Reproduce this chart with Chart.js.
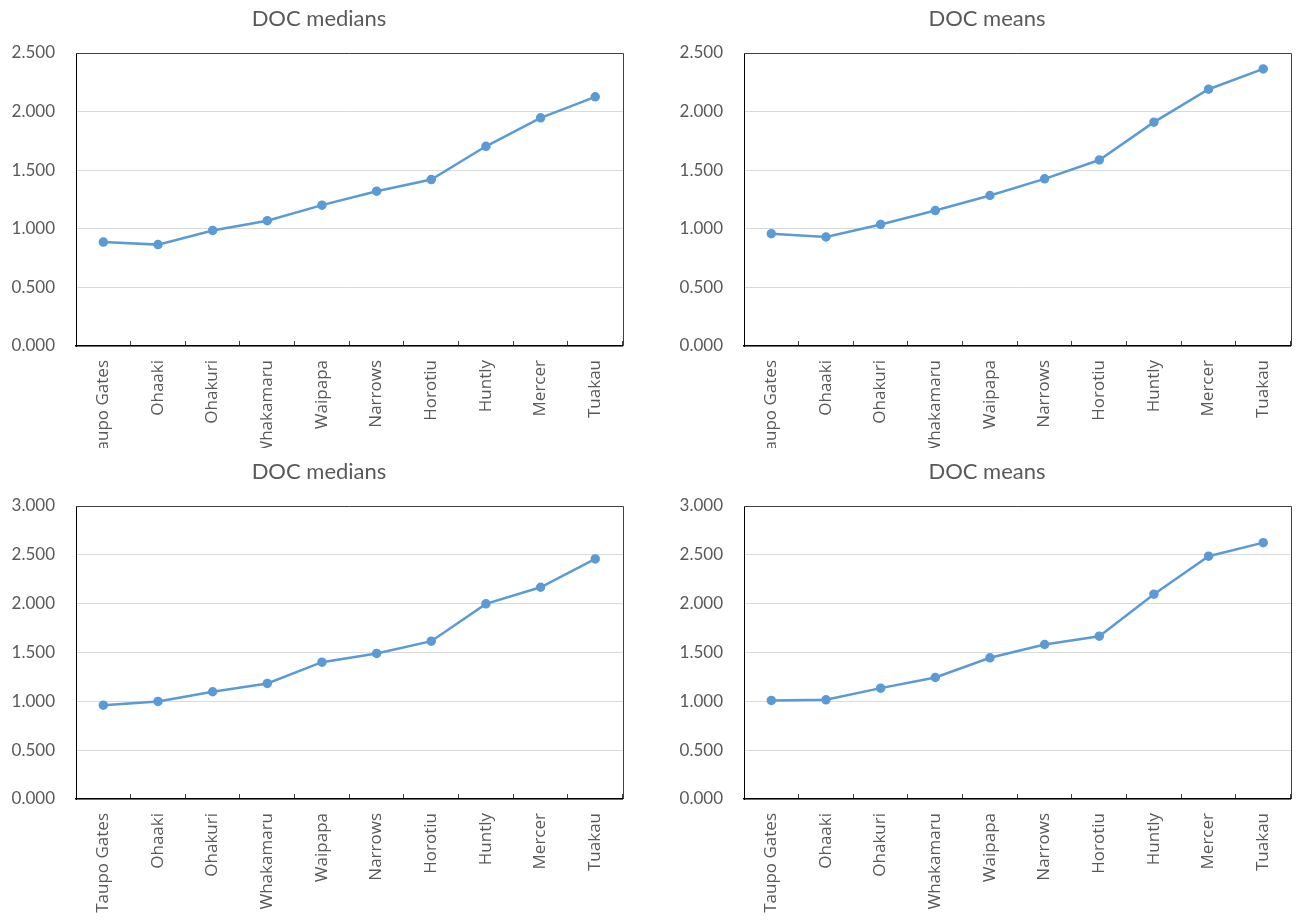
<!DOCTYPE html>
<html>
<head>
<meta charset="utf-8">
<script src="https://cdn.jsdelivr.net/npm/chart.js@4.4.1/dist/chart.umd.min.js"></script>
<style>
  html, body { margin: 0; padding: 0; background: #fff; }
  body { width: 1301px; height: 920px; position: relative; overflow: hidden; }
  .box { position: absolute; }
  canvas { display: block; }
  .title {
    position: absolute; width: 638px; height: 36px; line-height: 36px;
    text-align: center; font-family: Lato, sans-serif; font-size: 22px; color: #595959;
  }
</style>
</head>
<body>
<div class="box" style="left:0;top:0"><canvas id="c1" width="635" height="448"></canvas></div>
<div class="box" style="left:668px;top:0"><canvas id="c2" width="635" height="448"></canvas></div>
<div class="box" style="left:0;top:453px"><canvas id="c3" width="635" height="467"></canvas></div>
<div class="box" style="left:668px;top:453px"><canvas id="c4" width="635" height="467"></canvas></div>
<div class="title" id="t1" style="left:0;top:0"></div>
<div class="title" id="t2" style="left:668px;top:0"></div>
<div class="title" id="t3" style="left:0;top:453px"></div>
<div class="title" id="t4" style="left:668px;top:453px"></div>
<script>
// Data
const sites = ['Taupo Gates', 'Ohaaki', 'Ohakuri', 'Whakamaru', 'Waipapa', 'Narrows', 'Horotiu', 'Huntly', 'Mercer', 'Tuakau'];

const mediansTop = [0.887, 0.865, 0.986, 1.069, 1.202, 1.321, 1.420, 1.704, 1.947, 2.126];
const meansTop = [0.958, 0.930, 1.037, 1.156, 1.284, 1.426, 1.587, 1.910, 2.191, 2.364];
const mediansBottom = [0.961, 0.999, 1.098, 1.183, 1.401, 1.490, 1.616, 1.998, 2.168, 2.458];
const meansBottom = [1.009, 1.016, 1.135, 1.244, 1.446, 1.582, 1.667, 2.097, 2.486, 2.625];

const yMaxTop = 2.5;
const yMaxBottom = 3.0;
const yStep = 0.5;

const blue = '#5B9BD5';
const grey = '#595959';

// frame round the plot area (top and right sides)
const frame = {
  id: 'frame',
  afterDraw(chart) {
    const a = chart.chartArea;
    const ctx = chart.ctx;
    ctx.save();
    ctx.strokeStyle = '#404040';
    ctx.lineWidth = 1;
    ctx.beginPath();
    ctx.moveTo(a.left, Math.round(a.top) + 0.5);
    ctx.lineTo(Math.round(a.right) + 0.5, Math.round(a.top) + 0.5);
    ctx.lineTo(Math.round(a.right) + 0.5, a.bottom);
    ctx.stroke();
    ctx.restore();
  }
};

function makeChart(id, titleId, title, values, yMax, axisHeight) {
  document.getElementById(titleId).textContent = title;
  new Chart(document.getElementById(id), {
    type: 'line',
    data: {
      labels: sites,
      datasets: [{
        label: title,
        data: values,
        borderColor: blue,
        backgroundColor: blue,
        borderWidth: 2.5,
        pointRadius: 3.5,
        pointHoverRadius: 3.5,
        pointBackgroundColor: blue,
        pointBorderColor: blue,
        tension: 0,
        fill: false
      }]
    },
    options: {
      responsive: false,
      animation: false,
      devicePixelRatio: 1,
      layout: { padding: { left: 0, right: 7, top: 53, bottom: 0 } },
      plugins: {
        legend: { display: false },
        tooltip: { enabled: false },
        title: { display: false }
      },
      scales: {
        x: {
          offset: true,
          grid: {
            offset: true,
            drawOnChartArea: false,
            drawTicks: true,
            tickLength: -5,
            color: '#404040'
          },
          border: { display: true, color: '#000', width: 1.5 },
          ticks: {
            autoSkip: false,
            minRotation: 90,
            maxRotation: 90,
            padding: 19,
            color: grey,
            font: { family: 'Open Sans', size: 17 }
          },
          afterFit(scale) { scale.height = axisHeight; }
        },
        y: {
          min: 0,
          max: yMax,
          ticks: {
            stepSize: yStep,
            padding: 21,
            color: grey,
            font: { family: 'Lato', size: 17 },
            callback: v => Number(v).toFixed(3)
          },
          grid: { color: '#d9d9d9', lineWidth: 1, drawTicks: false },
          border: { display: true, color: '#000', width: 1 },
          afterFit(scale) { scale.width = 76; }
        }
      }
    },
    plugins: [frame]
  });
}

makeChart('c1', 't1', 'DOC medians', mediansTop, yMaxTop, 102);
makeChart('c2', 't2', 'DOC means', meansTop, yMaxTop, 102);
makeChart('c3', 't3', 'DOC medians', mediansBottom, yMaxBottom, 121);
makeChart('c4', 't4', 'DOC means', meansBottom, yMaxBottom, 121);
</script>
</body>
</html>
